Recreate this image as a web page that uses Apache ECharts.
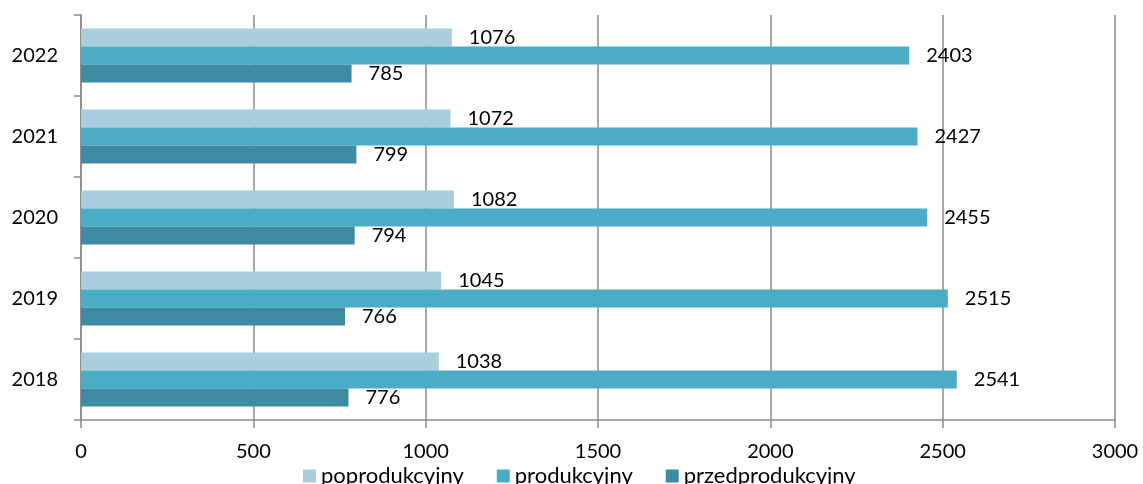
<!DOCTYPE html>
<html>
<head>
<meta charset="utf-8">
<script src="https://cdn.jsdelivr.net/npm/echarts@6/dist/echarts.min.js"></script>
<style>
  html, body { margin: 0; padding: 0; background: #fff; }
  #chart { width: 1143px; height: 484px; }
</style>
</head>
<body>
<div id="chart"></div>
<script>
// Years shown on the category axis (bottom to top)
const years = ['2018', '2019', '2020', '2021', '2022'];

// Population by economic age group
const poprodukcyjny = [1038, 1045, 1082, 1072, 1076];
const produkcyjny = [2541, 2515, 2455, 2427, 2403];
const przedprodukcyjny = [776, 766, 794, 799, 785];

const seriesNames = ['poprodukcyjny', 'produkcyjny', 'przedprodukcyjny'];
const seriesColors = ['#A9CFDC', '#4BACC6', '#3C8BA2'];
const seriesData = [poprodukcyjny, produkcyjny, przedprodukcyjny];

const FONT = 'Lato';
const AXIS_GRAY = '#8A8A8A';

const chart = echarts.init(document.getElementById('chart'), null, { renderer: 'canvas' });

chart.setOption({
  animation: false,
  textStyle: { fontFamily: FONT },
  grid: { left: 81, right: 28, top: 15, bottom: 64, containLabel: false },
  legend: {
    data: seriesNames,
    left: 298,
    top: 460,
    icon: 'rect',
    itemWidth: 13,
    itemHeight: 13,
    itemGap: 33,
    textStyle: { fontFamily: FONT, fontSize: 22, color: '#000' }
  },
  xAxis: {
    type: 'value',
    min: 0,
    max: 3000,
    interval: 500,
    axisLine: { show: true, lineStyle: { color: AXIS_GRAY, width: 1.5 } },
    axisTick: { show: true, length: 8, lineStyle: { color: AXIS_GRAY, width: 1.5 } },
    axisLabel: {
      margin: 22,
      fontFamily: FONT,
      fontSize: 20,
      color: '#000',
      formatter: (v) => String(v)
    },
    splitLine: { show: true, lineStyle: { color: AXIS_GRAY, width: 1.5 } }
  },
  yAxis: {
    type: 'category',
    data: years,
    axisLine: { show: true, lineStyle: { color: AXIS_GRAY, width: 1.5 } },
    axisTick: { show: true, length: 7, lineStyle: { color: AXIS_GRAY, width: 1.5 } },
    axisLabel: { margin: 23, fontFamily: FONT, fontSize: 20, color: '#000' },
    splitLine: { show: false }
  },
  series: seriesNames.map((name, i) => ({
    name,
    type: 'bar',
    data: seriesData[i],
    barWidth: 18,
    barGap: '0%',
    itemStyle: { color: seriesColors[i] },
    label: {
      show: true,
      position: 'right',
      distance: 17,
      fontFamily: FONT,
      fontSize: 20,
      color: '#000'
    }
  }))
});
</script>
</body>
</html>
